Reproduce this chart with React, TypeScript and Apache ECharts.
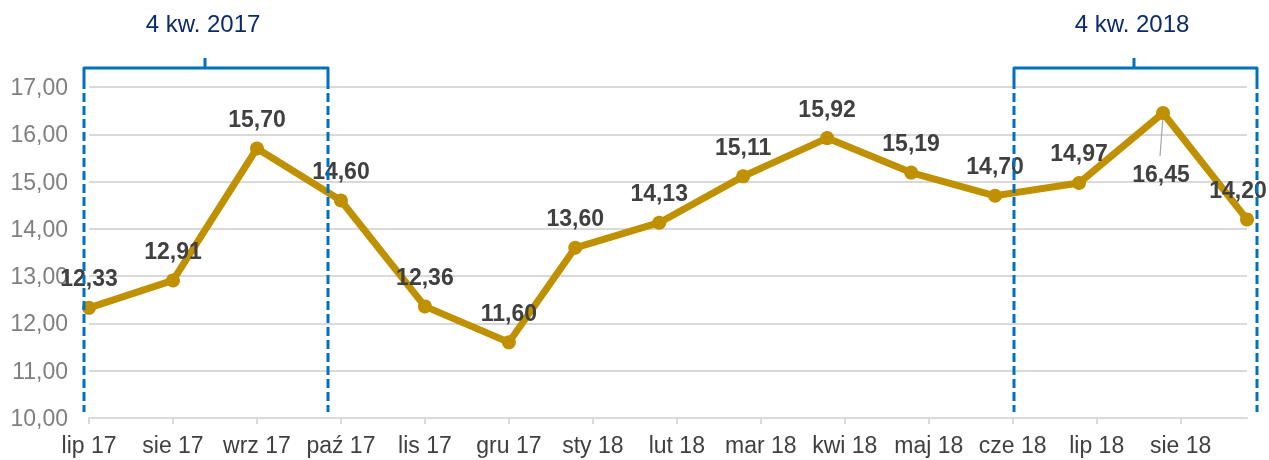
import React, { useEffect, useRef } from "react";
import * as echarts from "echarts";

// Month tick labels (one per month tick)
const monthLabels = [
  "lip 17", "sie 17", "wrz 17", "paź 17", "lis 17", "gru 17", "sty 18",
  "lut 18", "mar 18", "kwi 18", "maj 18", "cze 18", "lip 18", "sie 18",
];
// Position of each observation on the month scale (0 = lip 17)
const pointMonths = [0, 1, 2, 3, 4, 5, 5.79, 6.79, 7.79, 8.79, 9.79, 10.79, 11.79, 12.79, 13.79];
// Series values
const values = [12.33, 12.91, 15.7, 14.6, 12.36, 11.6, 13.6, 14.13, 15.11, 15.92, 15.19, 14.7, 14.97, 16.45, 14.2];
// Axis ranges
const xMax = 13.79;
const yMin = 10;
const yMax = 17;
// Quarter annotations
const quarterTitles = ["4 kw. 2017", "4 kw. 2018"];

const FONT = '"Liberation Sans", Arial, sans-serif';
const GOLD = "#BF9000";
const BLUE = "#0070C0";
const FS = 23;

const bracketGeom = [
  { x1: 84, x2: 328, xc: 205 },
  { x1: 1014, x2: 1257, xc: 1134 },
];

const fmt = (v: number) => v.toFixed(2).replace(".", ",");
const LEADER_INDEX = 13;

export default function App() {
  const ref = useRef<HTMLDivElement>(null);
  useEffect(() => {
    if (!ref.current) return;
    const chart = echarts.init(ref.current, null, { renderer: "svg" });

    const data = values.map((v, i) => {
      const item: any = { value: [pointMonths[i], v] };
      if (i === LEADER_INDEX) {
        item.label = { position: "bottom", distance: 42, offset: [-2, 0] };
      }
      if (i === 14) {
        item.label = { offset: [-9, 0] };
      }
      return item;
    });

    const graphics: any[] = [];
    bracketGeom.forEach((b, i) => {
      graphics.push({
        type: "text",
        z: 100,
        x: b.xc - 2,
        y: 23,
        style: {
          text: quarterTitles[i],
          fill: "#0B2A6B",
          fontSize: 24,
          fontFamily: FONT,
          align: "center",
          verticalAlign: "middle",
        },
      });
      graphics.push({
        type: "polyline",
        z: 100,
        shape: { points: [[b.x1, 80], [b.x1, 68], [b.x2, 68], [b.x2, 80]] },
        style: { stroke: BLUE, lineWidth: 3, fill: "none", lineJoin: "round" },
      });
      graphics.push({
        type: "line",
        z: 100,
        shape: { x1: b.xc, y1: 58, x2: b.xc, y2: 68 },
        style: { stroke: BLUE, lineWidth: 3 },
      });
      [b.x1, b.x2].forEach((x) => {
        graphics.push({
          type: "line",
          z: 100,
          shape: { x1: x, y1: 80, x2: x, y2: 412 },
          style: { stroke: BLUE, lineWidth: 3, lineDash: [9, 4] },
        });
      });
    });

    const ticks = monthLabels.map((_, i) => i);

    chart.setOption({
      animation: false,
      textStyle: { fontFamily: FONT },
      grid: { left: 89, right: 22, top: 87, bottom: 42, containLabel: false },
      xAxis: {
        type: "value",
        min: 0,
        max: xMax,
        interval: 1,
        splitLine: { show: false },
        axisLine: { show: true, lineStyle: { color: "#D9D9D9", width: 2 } },
        axisTick: { show: true, customValues: ticks, length: 6, lineStyle: { color: "#D9D9D9", width: 2 } },
        axisLabel: {
          customValues: ticks,
          formatter: (v: number) => monthLabels[Math.round(v)] ?? "",
          color: "#404040",
          fontSize: FS,
          fontFamily: FONT,
          margin: 15,
        },
      },
      yAxis: {
        type: "value",
        min: yMin,
        max: yMax,
        interval: 1,
        axisLine: { show: false },
        axisTick: { show: false },
        splitLine: { lineStyle: { color: "#D9D9D9", width: 2 } },
        axisLabel: {
          formatter: (v: number) => fmt(v),
          color: "#7F7F7F",
          fontSize: FS,
          fontFamily: FONT,
          margin: 21,
        },
      },
      series: [
        {
          type: "line",
          data,
          clip: false,
          symbol: "circle",
          symbolSize: 14,
          lineStyle: { color: GOLD, width: 7 },
          itemStyle: { color: GOLD },
          z: 3,
          label: {
            show: true,
            position: "top",
            distance: 11,
            formatter: (p: any) => fmt(p.value[1]),
            color: "#404040",
            fontSize: FS,
            fontWeight: "bold",
            fontFamily: FONT,
          },
        },
      ],
      graphic: graphics,
    });

    // Leader line for the label placed below its point, anchored through the axes
    const p = chart.convertToPixel({ seriesIndex: 0 }, [pointMonths[LEADER_INDEX], values[LEADER_INDEX]]) as number[];
    if (p) {
      graphics.push({
        type: "line",
        z: 2,
        shape: { x1: p[0], y1: p[1] + 3, x2: p[0] - 3, y2: p[1] + 43 },
        style: { stroke: "#A6A6A6", lineWidth: 1.2 },
      });
      chart.setOption({ graphic: graphics }, { replaceMerge: ["graphic"] });
    }

    return () => chart.dispose();
  }, []);

  return (
    <div
      ref={ref}
      style={{ position: "fixed", left: 0, top: 0, width: 1269, height: 460 }}
    />
  );
}
